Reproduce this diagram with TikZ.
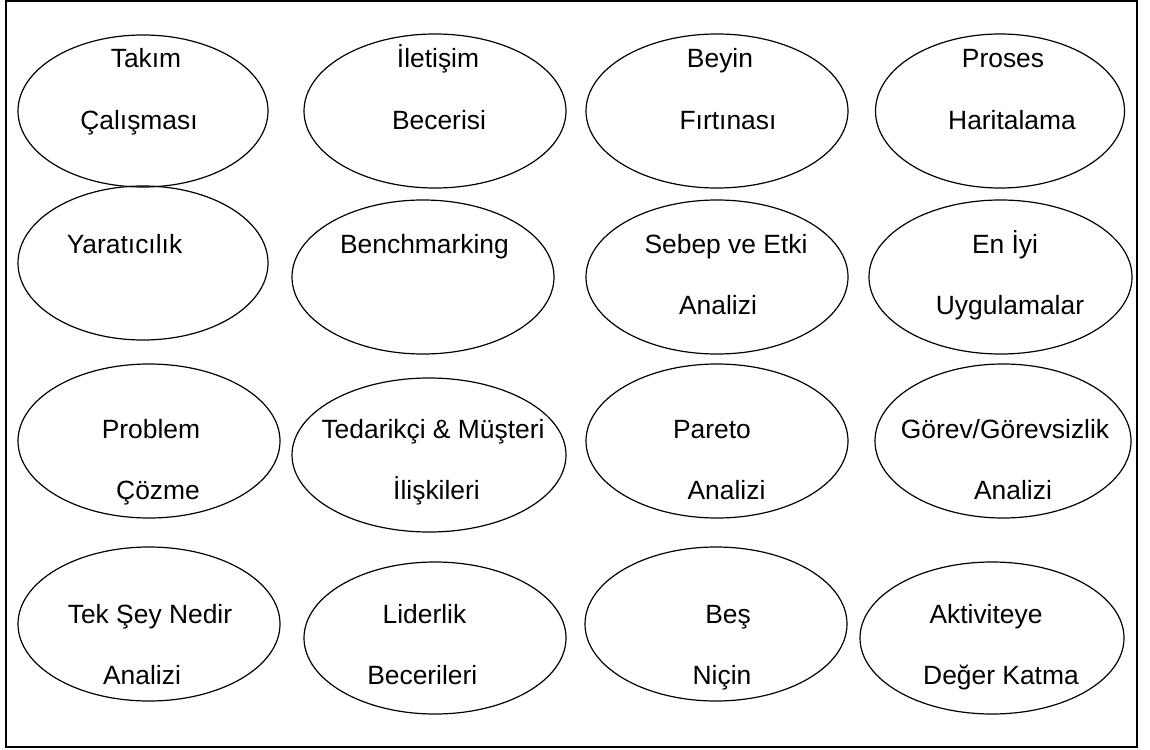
\documentclass[tikz,border=0pt]{standalone}
\usepackage{fontspec}
\setmainfont{Liberation Sans}
\usetikzlibrary{shapes.geometric}
\tikzset{
  topic/.style={draw,ellipse,line width=1.2pt,inner sep=0pt},
  caption/.style={anchor=base,inner sep=0pt,font=\fontsize{26.4}{30}\selectfont}
}
\begin{document}
\begin{tikzpicture}[x=1pt,y=-1pt]
\useasboundingbox (0,0) rectangle (1150,749);
\draw[line width=2pt] (6,1.5) rectangle (1136.5,746.5);
\node[topic,minimum width=250,minimum height=152] (takim) at (143,111) {};
\node[topic,minimum width=262,minimum height=154] (iletisim) at (435,111) {};
\node[topic,minimum width=262,minimum height=154] (beyin) at (717,111) {};
\node[topic,minimum width=249,minimum height=154] (proses) at (1000,111) {};
\node[topic,minimum width=250,minimum height=154] (yaraticilik) at (143,263) {};
\node[topic,minimum width=262,minimum height=154] (benchmarking) at (423,277) {};
\node[topic,minimum width=262,minimum height=154] (sebep) at (717,277) {};
\node[topic,minimum width=263,minimum height=154] (eniyi) at (1000.5,277) {};
\node[topic,minimum width=262,minimum height=154] (problem) at (149,441) {};
\node[topic,minimum width=274,minimum height=154] (tedarikci) at (429,455) {};
\node[topic,minimum width=262,minimum height=154] (pareto) at (717,441) {};
\node[topic,minimum width=256,minimum height=154] (gorev) at (1003,441) {};
\node[topic,minimum width=262,minimum height=154] (tekey) at (149,624) {};
\node[topic,minimum width=262,minimum height=152] (liderlik) at (435,638) {};
\node[topic,minimum width=262,minimum height=154] (bes) at (716,624) {};
\node[topic,minimum width=264,minimum height=152] (aktivite) at (992,638) {};
\node[caption] (takim-1) at (146,68) {Takım};
\node[caption] (takim-2) at (139,129) {Çalışması};
\node[caption] (iletisim-1) at (438,68) {İletişim};
\node[caption] (iletisim-2) at (439,129) {Becerisi};
\node[caption] (beyin-1) at (720,68) {Beyin};
\node[caption] (beyin-2) at (728,129) {Fırtınası};
\node[caption] (proses-1) at (1003,68) {Proses};
\node[caption] (proses-2) at (1012,129) {Haritalama};
\node[caption] (yaraticilik-1) at (124.5,253) {Yaratıcılık};
\node[caption] (benchmarking-1) at (424.5,253) {Benchmarking};
\node[caption] (sebep-1) at (726,253) {Sebep ve Etki};
\node[caption] (sebep-2) at (718,314) {Analizi};
\node[caption] (eniyi-1) at (1005,253) {En İyi};
\node[caption] (eniyi-2) at (1010,314) {Uygulamalar};
\node[caption] (problem-1) at (151,438) {Problem};
\node[caption] (problem-2) at (158,499) {Çözme};
\node[caption] (tedarikci-1) at (433,438) {Tedarikçi \& Müşteri};
\node[caption] (tedarikci-2) at (436.5,499) {İlişkileri};
\node[caption] (pareto-1) at (712,438) {Pareto};
\node[caption] (pareto-2) at (726.5,499) {Analizi};
\node[caption] (gorev-1) at (1005,438) {Görev/Görevsizlik};
\node[caption] (gorev-2) at (1013,499) {Analizi};
\node[caption] (tekey-1) at (150,623) {Tek Şey Nedir};
\node[caption] (tekey-2) at (142,684) {Analizi};
\node[caption] (liderlik-1) at (424.5,623) {Liderlik};
\node[caption] (liderlik-2) at (422.3,684) {Becerileri};
\node[caption] (bes-1) at (728,623) {Beş};
\node[caption] (bes-2) at (722,684) {Niçin};
\node[caption] (aktivite-1) at (986,623) {Aktiviteye};
\node[caption] (aktivite-2) at (1001,684) {Değer Katma};
\end{tikzpicture}
\end{document}
